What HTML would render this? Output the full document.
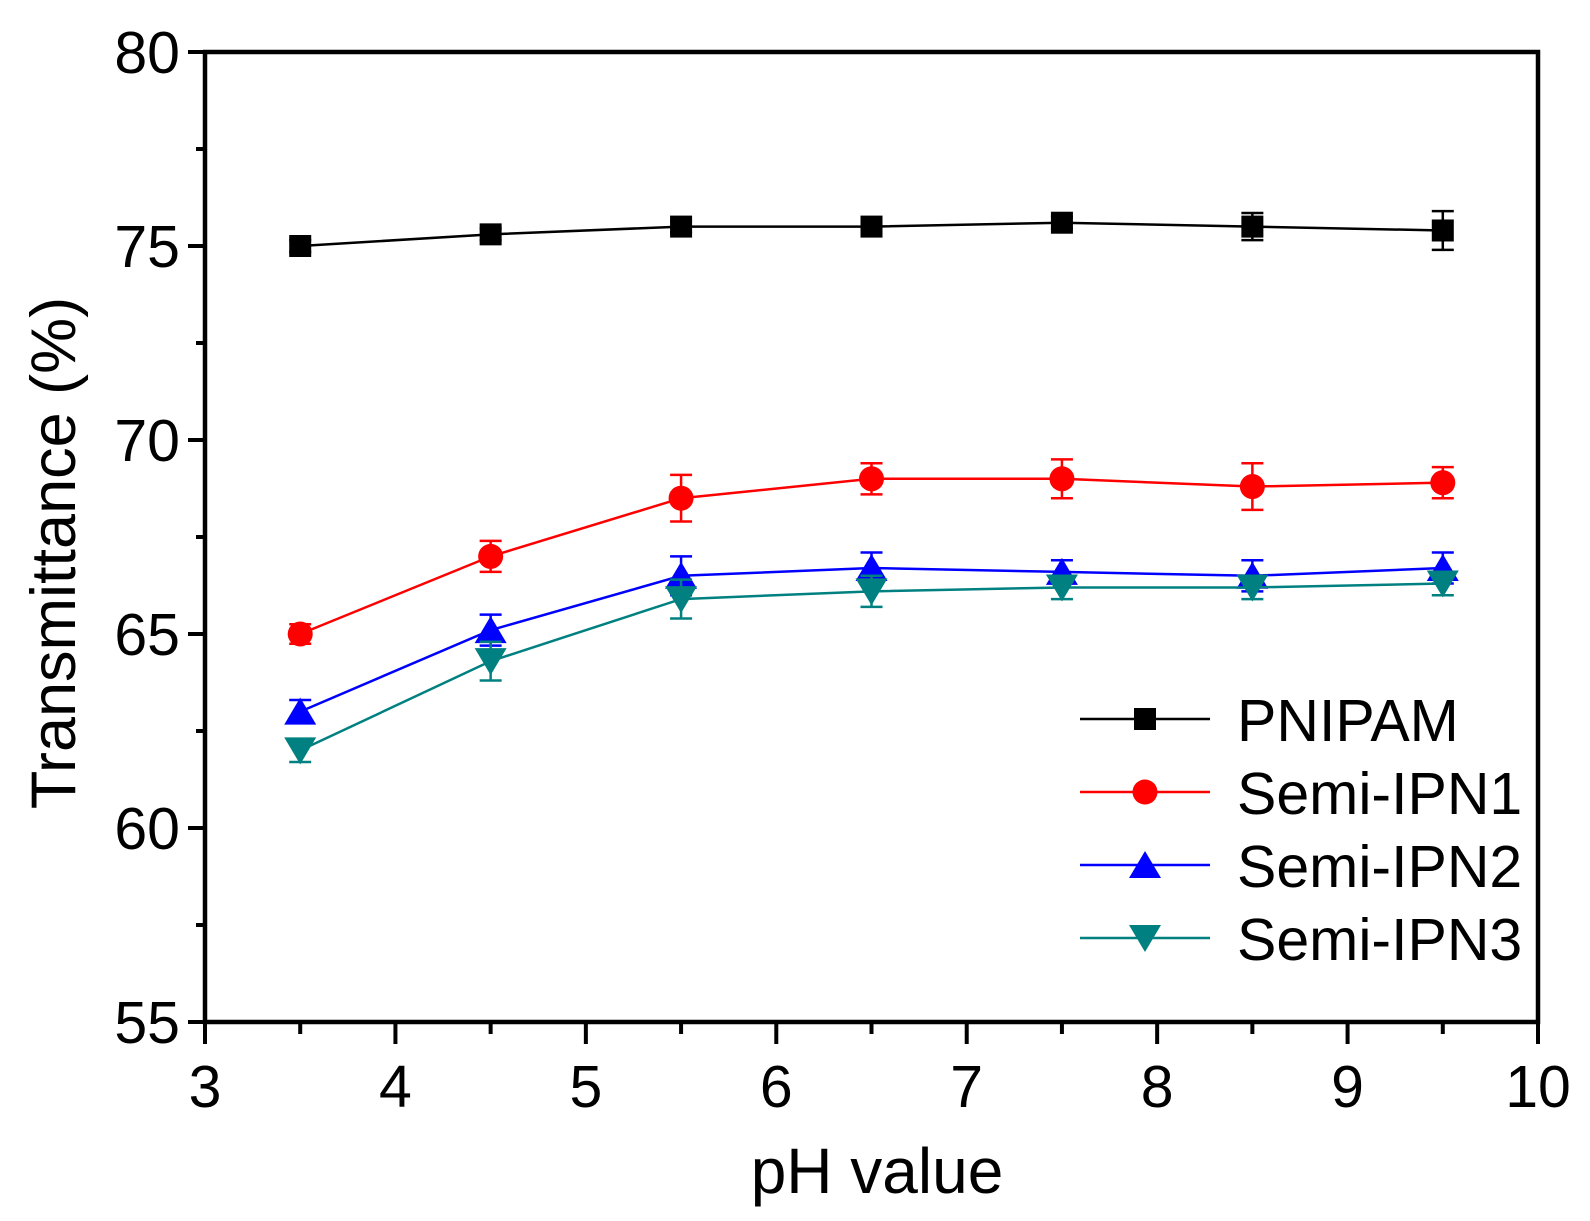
<!DOCTYPE html>
<html><head><meta charset="utf-8"><style>body{margin:0;background:#fff}svg{display:block}</style></head>
<body>
<svg id="s" width="1590" height="1221" xmlns="http://www.w3.org/2000/svg" font-family="Liberation Sans, Arial, sans-serif"></svg>
<script>
const X=v=>205+(v-3)*190.43, Y=v=>52+(80-v)*38.8;
let h='';
const xs=[3.5,4.5,5.5,6.5,7.5,8.5,9.5];
const series=[
 {c:'#000',m:'sq',y:[75,75.3,75.5,75.5,75.6,75.5,75.4],e:[0.15,0.15,0.15,0.15,0.15,0.35,0.5]},
 {c:'#f00',m:'ci',y:[65,67,68.5,69,69,68.8,68.9],e:[0.25,0.4,0.6,0.4,0.5,0.6,0.4]},
 {c:'#00f',m:'up',y:[63,65.1,66.5,66.7,66.6,66.5,66.7],e:[0.3,0.4,0.5,0.4,0.3,0.4,0.4]},
 {c:'#008080',m:'dn',y:[62,64.3,65.9,66.1,66.2,66.2,66.3],e:[0.3,0.5,0.5,0.4,0.3,0.3,0.3]}];
function mk(m,x,y,c){
 if(m=='sq')return `<rect x="${x-11}" y="${y-11}" width="22" height="22" fill="${c}"/>`;
 if(m=='ci')return `<circle cx="${x}" cy="${y}" r="12.5" fill="${c}"/>`;
 if(m=='up')return `<polygon points="${x},${y-14} ${x-16},${y+13} ${x+16},${y+13}" fill="${c}"/>`;
 return `<polygon points="${x},${y+14} ${x-16},${y-13} ${x+16},${y-13}" fill="${c}"/>`;
}
for(const s of series){
 h+=`<polyline fill="none" stroke="${s.c}" stroke-width="2.5" points="${xs.map((x,i)=>X(x)+','+Y(s.y[i])).join(' ')}"/>`;
 xs.forEach((x,i)=>{const px=X(x),t=Y(s.y[i]+s.e[i]),b=Y(s.y[i]-s.e[i]);
  h+=`<g stroke="${s.c}" stroke-width="2.5"><line x1="${px}" y1="${t}" x2="${px}" y2="${b}"/><line x1="${px-11}" y1="${t}" x2="${px+11}" y2="${t}"/><line x1="${px-11}" y1="${b}" x2="${px+11}" y2="${b}"/></g>`;
  h+=mk(s.m,px,Y(s.y[i]),s.c);});
}
h+=`<rect x="205" y="52" width="1333" height="970" fill="none" stroke="#000" stroke-width="4.5"/>`;
for(let v=55;v<=80;v+=2.5){const y=Y(v),maj=v%5==0;h+=`<line x1="${205-(maj?17:9)}" y1="${y}" x2="205" y2="${y}" stroke="#000" stroke-width="4"/>`;
 if(maj)h+=`<text x="180" y="${y+21}" font-size="59" text-anchor="end">${v}</text>`;}
for(let v=3;v<=10;v+=0.5){const x=X(v),maj=v%1==0;h+=`<line x1="${x}" y1="1022" x2="${x}" y2="${1022+(maj?22:12)}" stroke="#000" stroke-width="4"/>`;
 if(maj)h+=`<text x="${x}" y="1107" font-size="59" text-anchor="middle">${v}</text>`;}
h+=`<text x="877" y="1193" font-size="64" text-anchor="middle">pH value</text>`;
h+=`<text transform="translate(75,553) rotate(-90)" font-size="63" text-anchor="middle">Transmittance (%)</text>`;
const names=['PNIPAM','Semi-IPN1','Semi-IPN2','Semi-IPN3'];
series.forEach((s,i)=>{const y=719+i*73;
 h+=`<line x1="1080" y1="${y}" x2="1210" y2="${y}" stroke="${s.c}" stroke-width="2.5"/>`+mk(s.m,1145,y,s.c)+
 `<text x="1237" y="${y+22}" font-size="59">${names[i]}</text>`;});
document.getElementById('s').innerHTML=h;
</script>
</body></html>
